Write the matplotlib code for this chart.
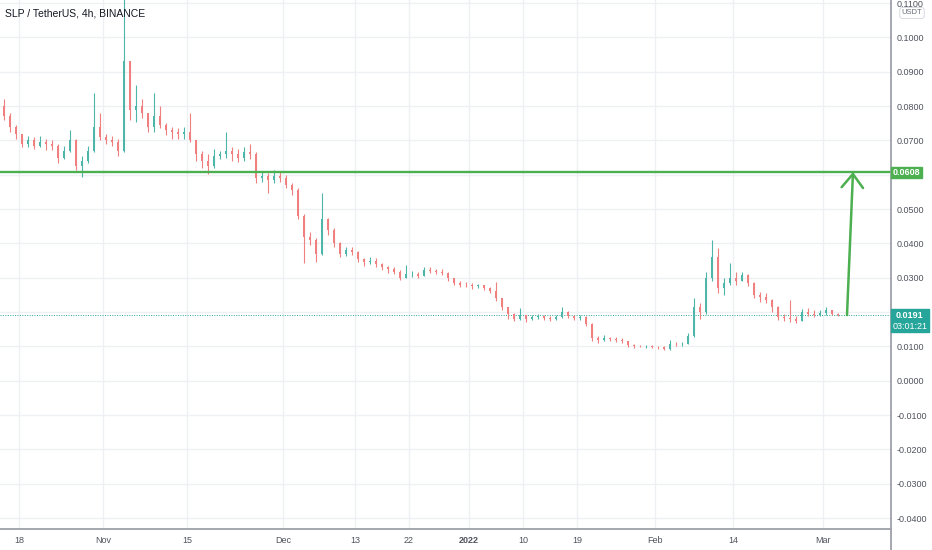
import matplotlib
matplotlib.use('Agg')
import matplotlib.pyplot as plt
import matplotlib.dates as mdates
from matplotlib.patches import Rectangle
import numpy as np
import pandas as pd

# SLP / TetherUS, daily bars (Oct 15 2021 .. Mar 3 2022)
first_open = 0.0800
closes = [0.0770, 0.0740, 0.0720, 0.0690, 0.0700, 0.0685, 0.0695, 0.0690, 0.0685, 0.0650,
          0.0670, 0.0700, 0.0625, 0.0640, 0.0670, 0.0740, 0.0710, 0.0700, 0.0695, 0.0670,
          0.0930, 0.0790, 0.0800, 0.0780, 0.0740, 0.0770, 0.0745, 0.0730, 0.0725, 0.0720,
          0.0725, 0.0700, 0.0660, 0.0640, 0.0625, 0.0655, 0.0660, 0.0670, 0.0660, 0.0650,
          0.0665, 0.0660, 0.0590, 0.0595, 0.0585, 0.0595, 0.0590, 0.0570, 0.0555, 0.0480,
          0.0420, 0.0410, 0.0370, 0.0470, 0.0440, 0.0400, 0.0370, 0.0380, 0.0375, 0.0355,
          0.0345, 0.0350, 0.0340, 0.0330, 0.0325, 0.0318, 0.0300, 0.0310, 0.0312, 0.0305,
          0.0322, 0.0320, 0.0318, 0.0315, 0.0298, 0.0285, 0.0280, 0.0278, 0.0275, 0.0278,
          0.0270, 0.0262, 0.0240, 0.0215, 0.0195, 0.0180, 0.0190, 0.0180, 0.0185, 0.0188,
          0.0182, 0.0180, 0.0186, 0.0200, 0.0188, 0.0182, 0.0185, 0.0165, 0.0125, 0.0120,
          0.0125, 0.0122, 0.0120, 0.0115, 0.0103, 0.0102, 0.0100, 0.0100, 0.0098, 0.0097,
          0.0093, 0.0108, 0.0106, 0.0108, 0.0130, 0.0215, 0.0200, 0.0300, 0.0360, 0.0270,
          0.0285, 0.0300, 0.0290, 0.0308, 0.0285, 0.0250, 0.0245, 0.0235, 0.0215, 0.0185,
          0.0182, 0.0180, 0.0175, 0.0200, 0.0195, 0.0192, 0.0196, 0.0205, 0.0195, 0.0191]
highs = [0.0820, 0.0780, 0.0745, 0.0715, 0.0712, 0.0710, 0.0712, 0.0705, 0.0700, 0.0690,
         0.0685, 0.0730, 0.0705, 0.0655, 0.0685, 0.0837, 0.0780, 0.0720, 0.0712, 0.0705,
         0.1180, 0.0930, 0.0861, 0.0820, 0.0780, 0.0837, 0.0800, 0.0750, 0.0740, 0.0735,
         0.0740, 0.0780, 0.0700, 0.0670, 0.0660, 0.0675, 0.0670, 0.0724, 0.0680, 0.0675,
         0.0680, 0.0690, 0.0665, 0.0610, 0.0605, 0.0615, 0.0610, 0.0600, 0.0575, 0.0560,
         0.0485, 0.0432, 0.0415, 0.0546, 0.0475, 0.0445, 0.0405, 0.0390, 0.0390, 0.0378,
         0.0358, 0.0360, 0.0358, 0.0342, 0.0335, 0.0330, 0.0322, 0.0337, 0.0320, 0.0318,
         0.0332, 0.0330, 0.0326, 0.0325, 0.0318, 0.0300, 0.0290, 0.0288, 0.0285, 0.0283,
         0.0280, 0.0272, 0.0287, 0.0242, 0.0215, 0.0197, 0.0211, 0.0192, 0.0190, 0.0195,
         0.0192, 0.0188, 0.0192, 0.0214, 0.0202, 0.0192, 0.0190, 0.0188, 0.0168, 0.0130,
         0.0133, 0.0128, 0.0128, 0.0125, 0.0116, 0.0106, 0.0105, 0.0104, 0.0103, 0.0102,
         0.0100, 0.0118, 0.0113, 0.0114, 0.0140, 0.0240, 0.0225, 0.0316, 0.0409, 0.0386,
         0.0300, 0.0342, 0.0316, 0.0316, 0.0310, 0.0288, 0.0258, 0.0255, 0.0238, 0.0218,
         0.0195, 0.0235, 0.0188, 0.0210, 0.0212, 0.0205, 0.0205, 0.0214, 0.0206, 0.0198]
lows = [0.0760, 0.0725, 0.0705, 0.0680, 0.0680, 0.0675, 0.0680, 0.0672, 0.0672, 0.0635,
        0.0645, 0.0665, 0.0615, 0.0593, 0.0635, 0.0665, 0.0700, 0.0690, 0.0685, 0.0655,
        0.0665, 0.0760, 0.0753, 0.0765, 0.0725, 0.0725, 0.0735, 0.0715, 0.0705, 0.0705,
        0.0705, 0.0695, 0.0640, 0.0620, 0.0603, 0.0620, 0.0645, 0.0650, 0.0640, 0.0638,
        0.0640, 0.0645, 0.0575, 0.0580, 0.0546, 0.0575, 0.0578, 0.0560, 0.0540, 0.0470,
        0.0342, 0.0395, 0.0345, 0.0365, 0.0425, 0.0390, 0.0360, 0.0362, 0.0365, 0.0345,
        0.0335, 0.0340, 0.0332, 0.0322, 0.0315, 0.0312, 0.0292, 0.0298, 0.0302, 0.0300,
        0.0305, 0.0315, 0.0312, 0.0308, 0.0290, 0.0278, 0.0274, 0.0272, 0.0268, 0.0270,
        0.0265, 0.0255, 0.0232, 0.0205, 0.0180, 0.0175, 0.0176, 0.0172, 0.0176, 0.0180,
        0.0177, 0.0174, 0.0176, 0.0182, 0.0182, 0.0178, 0.0178, 0.0158, 0.0115, 0.0110,
        0.0115, 0.0116, 0.0114, 0.0110, 0.0098, 0.0096, 0.0097, 0.0095, 0.0094, 0.0093,
        0.0089, 0.0090, 0.0101, 0.0102, 0.0106, 0.0128, 0.0180, 0.0195, 0.0290, 0.0255,
        0.0249, 0.0280, 0.0280, 0.0296, 0.0275, 0.0240, 0.0228, 0.0225, 0.0200, 0.0176,
        0.0175, 0.0172, 0.0168, 0.0175, 0.0188, 0.0186, 0.0188, 0.0192, 0.0190, 0.0188]

resistance = 0.0608
last_price = 0.0191
countdown = '03:01:21'
title = 'SLP / TetherUS, 4h, BINANCE'
price_ticks = [-0.04, -0.03, -0.02, -0.01, 0.0, 0.01, 0.02, 0.03, 0.04, 0.05, 0.06, 0.07, 0.08, 0.09, 0.10, 0.11]
hidden_ticks = [0.02, 0.06]   # covered by the price labels on the axis
date_ticks = ['2021-10-18', '2021-11-01', '2021-11-15', '2021-12-01', '2021-12-13', '2021-12-22',
              '2022-01-01', '2022-01-10', '2022-01-19', '2022-02-01', '2022-02-14', '2022-03-01']
date_labels = ['18', 'Nov', '15', 'Dec', '13', '22', '2022', '10', '19', 'Feb', '14', 'Mar']
arrow_from = ('2022-03-05', 0.0191)
arrow_to = ('2022-03-06', 0.0608)

UP = '#4db6a9'
DOWN = '#f07f7f'
GREEN = '#4caf50'
TEAL = '#26a69a'

W, H = 932, 550
def fx(px): return px / W
def fy(py): return 1 - py / H

plt.rcParams['font.family'] = ['Liberation Sans', 'DejaVu Sans']

closes = np.array(closes)
opens = np.concatenate([[first_open], closes[:-1]])
highs = np.maximum(np.array(highs), np.maximum(opens, closes))
lows = np.minimum(np.array(lows), np.minimum(opens, closes))
dates = pd.date_range('2021-10-15 12:00', periods=len(closes), freq='D')
xd = mdates.date2num(dates)

fig = plt.figure(figsize=(W / 100, H / 100), dpi=100)
fig.patch.set_facecolor('white')
ax = fig.add_axes([0, fy(529), fx(891), 529 / H])

# grid
for p in price_ticks:
    ax.axhline(p, color='#eef0f4', lw=1, zorder=0)
tick_nums = mdates.date2num(pd.to_datetime(date_ticks))
for t in tick_nums:
    ax.axvline(t, color='#eef0f4', lw=1, zorder=0)

# candles
cols = np.where(closes >= opens, UP, DOWN)
ax.vlines(xd, lows, highs, colors=cols, lw=0.8, zorder=2)
body_lo = np.minimum(opens, closes)
body_h = np.maximum(np.abs(closes - opens), 0.00012)
ax.bar(xd, body_h, bottom=body_lo, width=0.4, color=cols, linewidth=0, zorder=3)

# levels
ax.axhline(resistance, color=GREEN, lw=1.7, zorder=4)
ax.axhline(last_price, color=TEAL, lw=0.7, ls=(0, (1, 1.5)), zorder=1)

a0 = mdates.date2num(pd.Timestamp(arrow_from[0]))
a1 = mdates.date2num(pd.Timestamp(arrow_to[0]))
ax.annotate('', xy=(a1, arrow_to[1]), xytext=(a0, arrow_from[1]),
            arrowprops=dict(arrowstyle='->, head_length=0.7, head_width=0.55', color=GREEN,
                            lw=1.8, mutation_scale=14, shrinkA=0, shrinkB=0), zorder=5)

x0 = mdates.date2num(pd.Timestamp('2021-10-18'))
ax.set_xlim(x0 - 19 / 6, x0 + 872 / 6)
ax.set_ylim(-0.0432, 0.1109)

ax.set_xticks(tick_nums)
ax.set_xticklabels(date_labels)
for lab in ax.get_xticklabels():
    lab.set_fontsize(6.5)
    lab.set_color('#50535e')
    if lab.get_text() == '2022':
        lab.set_fontweight('bold')
ax.tick_params(axis='x', length=0, pad=5)

ax.yaxis.tick_right()
ax.set_yticks(price_ticks)
ylabs = []
for v in price_ticks:
    if any(abs(v - h) < 1e-9 for h in hidden_ticks):
        ylabs.append('')
    else:
        ylabs.append('%.4f' % v if v >= 0 else '-%.4f' % -v)
ax.set_yticklabels(ylabs)
ax.tick_params(axis='y', length=0, pad=4, labelsize=6.5, labelcolor='#50535e')

for s in ['top', 'left', 'right']:
    ax.spines[s].set_visible(False)
ax.spines['bottom'].set_color('#9da0a8')
ax.spines['bottom'].set_linewidth(1.3)

# price axis border
fig.add_artist(plt.Line2D([fx(891), fx(891)], [0, 1], color='#9da0a8', lw=1.3))

fig.text(fx(5), fy(13), title, fontsize=7.5, color='#131722', va='center', ha='left')

# USDT box
fig.text(fx(912), fy(13), 'USDT', fontsize=5.5, color='#6a6d78', ha='center', va='center',
         bbox=dict(boxstyle='round,pad=0.25,rounding_size=0.3', fc='white', ec='#d1d4dc', lw=0.6),
         zorder=12)

# resistance label
fig.add_artist(Rectangle((fx(891), fy(178)), fx(31), 11 / H, color=GREEN, zorder=10))
fig.text(fx(906.5), fy(172.5), '%.4f' % resistance, fontsize=6.5, color='white',
         ha='center', va='center', fontweight='bold', zorder=11)

# last price label
fig.add_artist(Rectangle((fx(891), fy(332)), fx(38), 23 / H, color=TEAL, zorder=10))
fig.text(fx(910), fy(315.5), '%.4f' % last_price, fontsize=6.5, color='white',
         ha='center', va='center', fontweight='bold', zorder=11)
fig.text(fx(910), fy(326.5), countdown, fontsize=6.5, color='white',
         ha='center', va='center', zorder=11)

fig.savefig('out.png', dpi=100)
